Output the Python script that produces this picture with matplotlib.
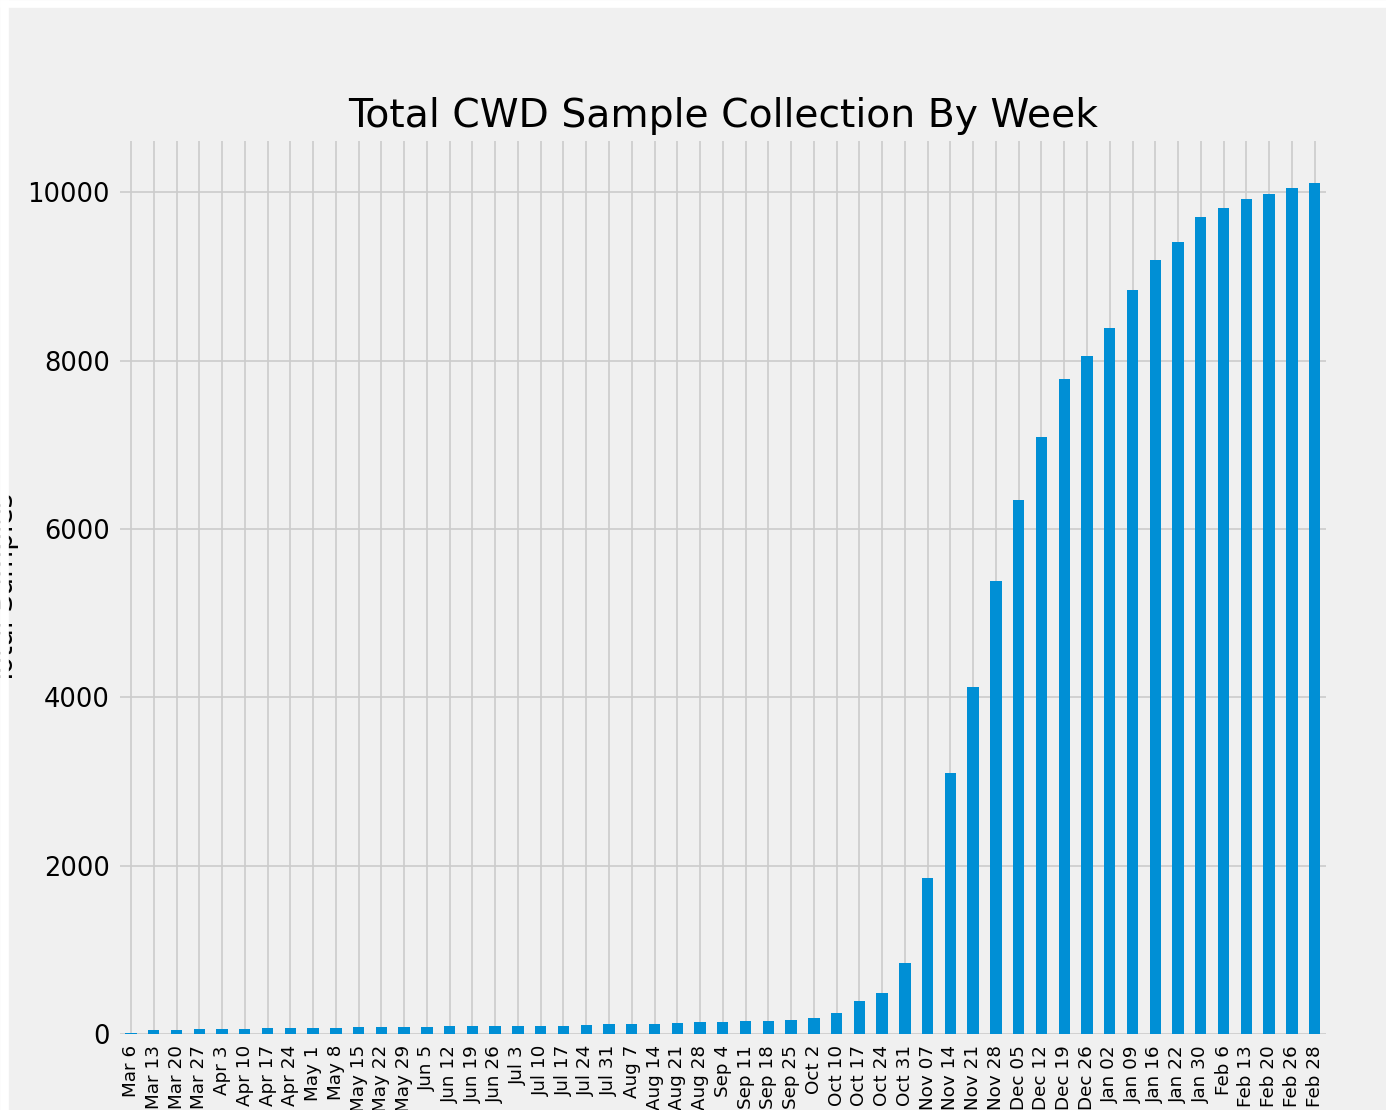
import matplotlib
matplotlib.use("Agg")
import matplotlib.pyplot as plt
from matplotlib.patches import Rectangle

weeks = ["Mar 6", "Mar 13", "Mar 20", "Mar 27", "Apr 3", "Apr 10", "Apr 17", "Apr 24",
         "May 1", "May 8", "May 15", "May 22", "May 29", "Jun 5", "Jun 12", "Jun 19",
         "Jun 26", "Jul 3", "Jul 10", "Jul 17", "Jul 24", "Jul 31", "Aug 7", "Aug 14",
         "Aug 21", "Aug 28", "Sep 4", "Sep 11", "Sep 18", "Sep 25", "Oct 2", "Oct 10",
         "Oct 17", "Oct 24", "Oct 31", "Nov 07", "Nov 14", "Nov 21", "Nov 28", "Dec 05",
         "Dec 12", "Dec 19", "Dec 26", "Jan 02", "Jan 09", "Jan 16", "Jan 22", "Jan 30",
         "Feb 6", "Feb 13", "Feb 20", "Feb 26", "Feb 28"]
total_samples = [10, 50, 52, 55, 62, 64, 66, 68, 70, 72, 78, 80, 82, 84, 92, 94,
                 96, 96, 98, 100, 112, 114, 114, 118, 132, 146, 148, 150, 152, 164, 190, 255,
                 390, 490, 845, 1850, 3100, 4120, 5380, 6340,
                 7090, 7780, 8050, 8385, 8835, 9200, 9415, 9710,
                 9810, 9925, 9975, 10050, 10105]

plt.style.use("fivethirtyeight")

fig = plt.figure(figsize=(13.86, 11.10), dpi=100)
fig.patch.set_facecolor("#f0f0f0")
ax = fig.add_axes([0.0863, 0.0685, 0.8704, 0.8045])
ax.set_facecolor("#f0f0f0")

pos = list(range(len(weeks)))
ax.bar(pos, total_samples, width=0.5, color="#008fd5", zorder=2)
ax.set_xlim(-0.5, len(weeks) - 0.5)
ax.set_ylim(0, max(total_samples) * 1.05)
ax.set_xticks(pos)
ax.set_xticklabels(weeks, rotation=90, fontsize=13.2)
ax.set_yticks([0, 2000, 4000, 6000, 8000, 10000])
ax.tick_params(axis="y", labelsize=18.5, pad=7)
ax.tick_params(axis="x", pad=8)
ax.grid(True, color="#cbcbcb", linewidth=1.2)
ax.set_axisbelow(True)
for s in ax.spines.values():
    s.set_visible(False)

ax.set_title("Total CWD Sample Collection By Week", fontsize=28.3, pad=10)
fig.text(0.004, 0.469, "Total Samples", rotation=90, fontsize=20,
         ha="center", va="center")

# white strips from the screenshot crop
fig.add_artist(Rectangle((0, 0), 8 / 1386, 1, transform=fig.transFigure,
                         color="white", zorder=10))
fig.add_artist(Rectangle((0, 1 - 7 / 1110), 1, 7 / 1110, transform=fig.transFigure,
                         color="white", zorder=10))

fig.savefig("out.png", dpi=100, facecolor=fig.get_facecolor())
